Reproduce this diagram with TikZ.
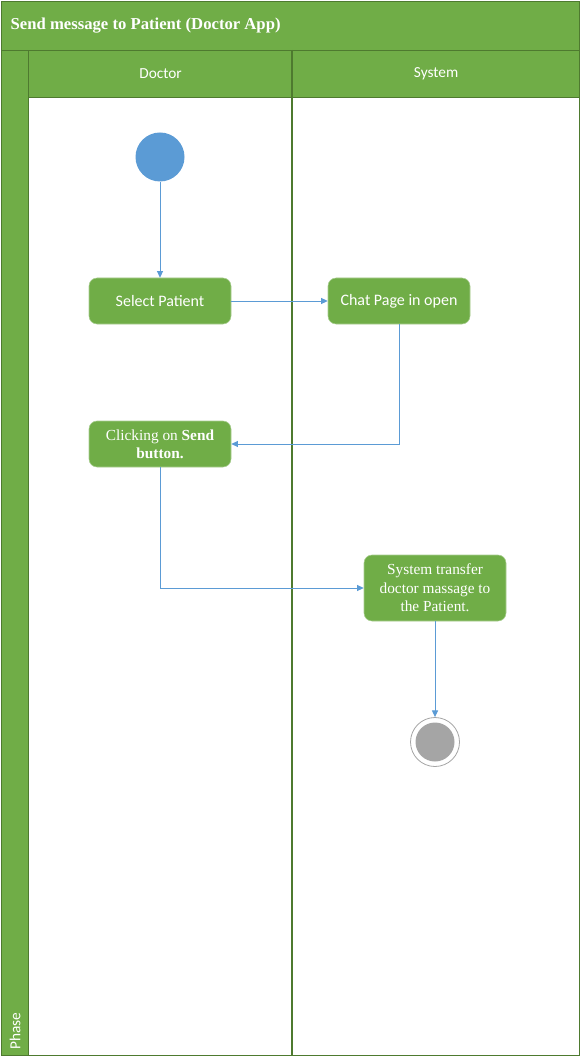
\documentclass[tikz,border=0pt]{standalone}
\usepackage{fontspec}
\setmainfont{Liberation Serif}
\newfontfamily\calibri{Carlito}
\usetikzlibrary{positioning,arrows.meta,calc}
\definecolor{green1}{HTML}{70AD47}
\definecolor{green2}{HTML}{4E7A2F}
\definecolor{blue1}{HTML}{5B9BD5}
\definecolor{grey1}{HTML}{A5A5A5}
\begin{document}
\begin{tikzpicture}[
    x=0.75pt, y=-0.75pt,
    >={Triangle[length=5pt,width=4.5pt]},
    band/.style={draw=green2, fill=green1, line width=0.9pt, inner sep=0pt,
                 anchor=north west},
    lanebody/.style={draw=green2, fill=white, line width=0.9pt, inner sep=0pt,
                     anchor=north west},
    head/.style={text=white, font=\calibri\fontsize{11.5}{13}\selectfont},
    act/.style={draw=green1!60!white, fill=green1, rounded corners=6pt,
                minimum width=106.5pt, minimum height=34.5pt, text=white,
                align=center, inner sep=2pt},
    flow/.style={->, draw=blue1, line width=0.75pt},
]
\useasboundingbox (0,0) rectangle (580,1062);

% ── Title and lanes ──
\node[band, minimum width=433.5pt, minimum height=36.75pt]
    (titlebar) at (1,1) {};
\node[anchor=west, text=white,
      font=\bfseries\fontsize{12.5}{15}\selectfont] (title) at (6,26)
    {Send message to Patient (Doctor App)};

\node[band, minimum width=20.25pt, minimum height=753.75pt]
    (phase) at (1,50) {};
\node[head, rotate=90, anchor=west, inner sep=0pt] (phaselbl) at (15,1050) {Phase};

\node[lanebody, minimum width=198pt, minimum height=753.75pt]
    (docbody) at (28,50) {};
\node[lanebody, minimum width=215.25pt, minimum height=753.75pt]
    (sysbody) at (292,50) {};
\node[band, minimum width=198pt, minimum height=35.25pt]
    (dochead) at (28,50) {};
\node[band, minimum width=215.25pt, minimum height=35.25pt]
    (syshead) at (292,50) {};
\node[head] (doclbl) at (dochead.center) {Doctor};
\node[head] (syslbl) at (syshead.center) {System};
\draw[green2, line width=1.4pt] (syshead.north west) -- (sysbody.south west);

% ── Activities ──
\node[circle, fill=blue1, minimum size=36.75pt, inner sep=0pt]
    (start) at (160,157) {};

\node[act, font=\calibri\fontsize{12}{14}\selectfont]
    (select) at (160,301) {Select Patient};
\node[act, font=\calibri\fontsize{12}{14}\selectfont]
    (chat) at (399,301) {Chat Page in open};
\node[act, font=\fontsize{11.5}{13.5}\selectfont]
    (click) at (160,444) {Clicking on \textbf{Send}\\\textbf{button.}};
\node[act, minimum height=49.5pt, font=\fontsize{11.5}{14}\selectfont]
    (transfer) at (435,588)
    {System transfer\\doctor massage to\\the Patient.};

\node[circle, draw=grey1, fill=white, minimum size=36.75pt, inner sep=0pt,
      line width=0.6pt] (stop) at (435,742) {};
\node[circle, fill=grey1, minimum size=29.25pt, inner sep=0pt]
    (stopin) at (stop.center) {};

% ── Flows ──
\draw[flow] (start) -- (select);
\draw[flow] (select) -- (chat);
\draw[flow] (chat.south) |- (click.east);
\draw[flow] (click.south) |- (transfer.west);
\draw[flow] (transfer) -- (stop);

\end{tikzpicture}
\end{document}
